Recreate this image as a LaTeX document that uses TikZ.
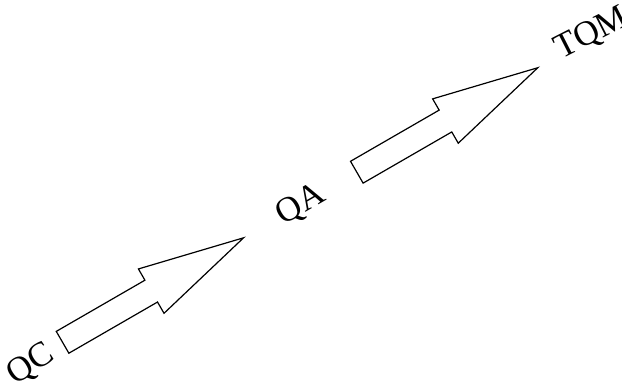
\documentclass[tikz,border=0pt]{standalone}
\usepackage{fontspec}
\setmainfont{Liberation Serif}
\usetikzlibrary{shapes.arrows, calc}

\begin{document}
\begin{tikzpicture}[
  x=1pt, y=1pt,
  level/.style={font=\fontsize{35}{38}\selectfont, inner sep=0pt},
  bigarrow/.style={single arrow, draw=black, line width=1.2pt, fill=white,
                   inner sep=12pt, minimum width=0pt, minimum height=209pt,
                   single arrow head extend=13pt, single arrow tip angle=27,
                   rotate=30, anchor=tail},
]
\useasboundingbox (0,0) rectangle (622,384);

% Quality levels
\node[level, rotate=33] (qc)  at (31,19)   {QC};
\node[level, rotate=30] (qa)  at (301,179) {QA};
\node[level, rotate=27] (tqm) at (592,350) {TQM};

% Arrows between levels
\node[bigarrow] (up1) at ($(qc)!0.115!(qa)+(0,4)$)  {};
\node[bigarrow] (up2) at ($(qa)!0.19!(tqm)+(0,0)$) {};

\end{tikzpicture}
\end{document}
